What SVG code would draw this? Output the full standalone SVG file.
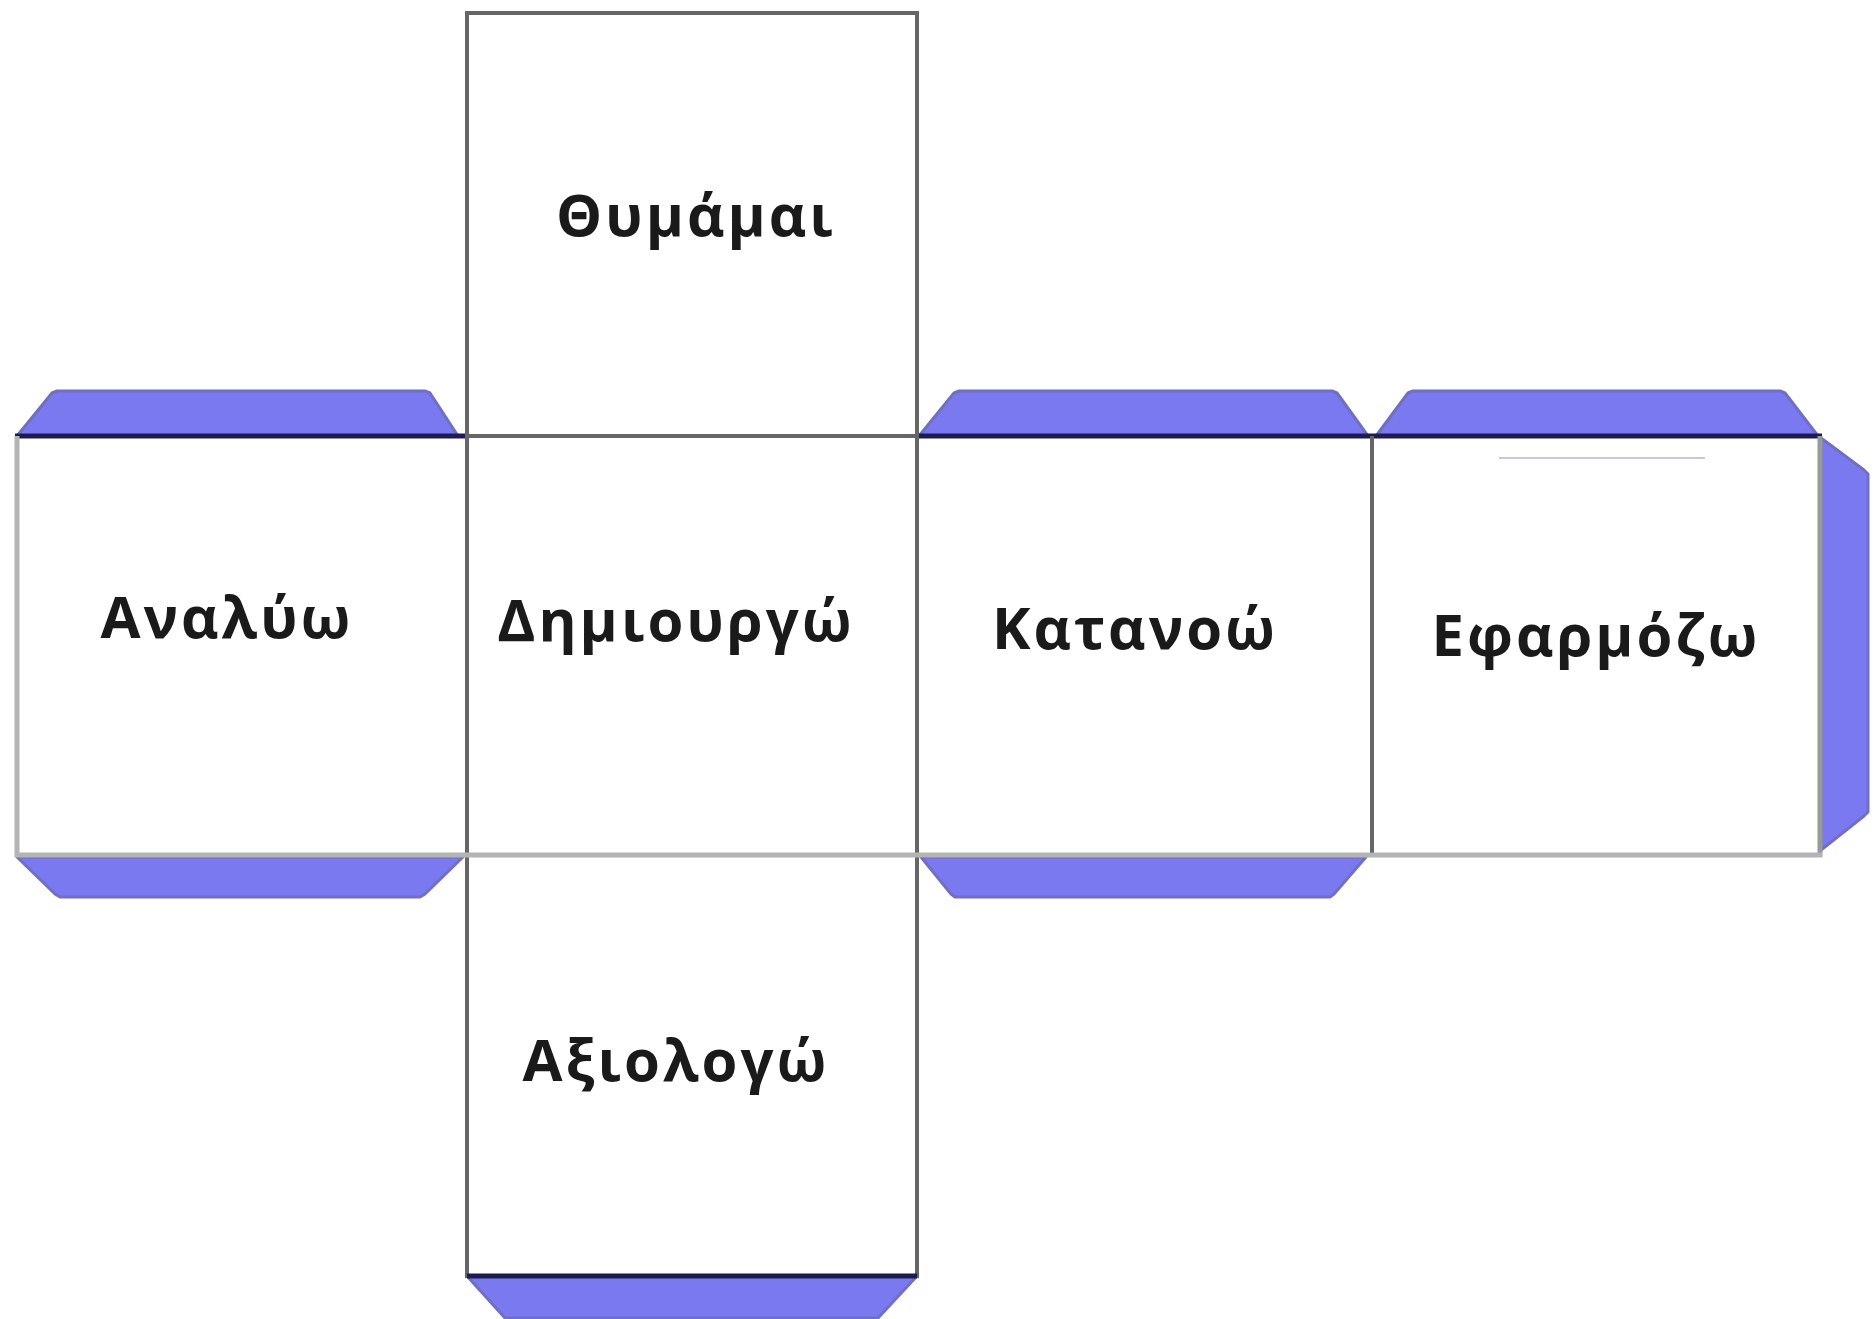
<svg xmlns="http://www.w3.org/2000/svg" width="1876" height="1319" viewBox="0 0 1876 1319">
<style>
.tab{fill:#7b79f0;stroke:#6f6fc4;stroke-width:3;stroke-linejoin:round}
.face{fill:#ffffff}
.edge{stroke:#666666;stroke-width:4;fill:none}
.light{stroke:#b4b4b4;stroke-width:5;fill:none}
.navy{stroke:#1c1c52;stroke-width:5;fill:none}
.lbl{font-family:"Open Sans","DejaVu Sans",sans-serif;font-weight:bold;font-size:58px;letter-spacing:3px;fill:#1a1a1a;text-anchor:middle}
</style>
<rect width="1876" height="1319" fill="#ffffff"/>
<g id="tabs">
<polygon class="tab" points="17,436 52,393 57,391 425,391 430,393 458,436"/>
<polygon class="tab" points="919,436 954,393 959,391 1332,391 1337,393 1368,436"/>
<polygon class="tab" points="1376,436 1408,393 1413,391 1780,391 1785,393 1818,436"/>
<polygon class="tab" points="17,857 463,857 425,894 420,897 60,897 55,894"/>
<polygon class="tab" points="921,857 1366,857 1334,894 1330,897 955,897 951,894"/>
<polygon class="tab" points="1821,438 1864,470 1868,474 1868,812 1864,816 1821,850"/>
<polygon class="tab" points="467,1276 917,1276 878,1318 505,1318"/>
</g>
<g id="node-thymamai">
<rect class="face" x="467" y="13" width="450" height="423"/>
<text class="lbl" x="696" y="236">Θυμάμαι</text>
</g>
<g id="node-analyo">
<rect class="face" x="17" y="436" width="450" height="419"/>
<text class="lbl" x="227" y="638">Αναλύω</text>
</g>
<g id="node-dimiourgo">
<rect class="face" x="467" y="436" width="450" height="419"/>
<text class="lbl" x="676" y="641">Δημιουργώ</text>
</g>
<g id="node-katanoo">
<rect class="face" x="917" y="436" width="455" height="419"/>
<text class="lbl" x="1135" y="649">Κατανοώ</text>
</g>
<g id="node-efarmozo">
<rect class="face" x="1372" y="436" width="448" height="419"/>
<text class="lbl" x="1596" y="656">Εφαρμόζω</text>
</g>
<g id="node-axiologo">
<rect class="face" x="467" y="855" width="450" height="421"/>
<text class="lbl" x="676" y="1081">Αξιολογώ</text>
</g>
<g id="connectors">
<line class="navy" x1="15" y1="436" x2="467" y2="436"/>
<line class="navy" x1="917" y1="436" x2="1822" y2="436"/>
<line class="edge" x1="467" y1="436" x2="917" y2="436"/>
<line class="edge" x1="467" y1="13" x2="917" y2="13"/>
<line class="edge" x1="467" y1="11" x2="467" y2="1278"/>
<line class="edge" x1="917" y1="11" x2="917" y2="1278"/>
<line class="edge" x1="1372" y1="436" x2="1372" y2="857"/>
<line class="light" x1="17" y1="436" x2="17" y2="857"/>
<line stroke="#999999" stroke-width="5" x1="1820" y1="436" x2="1820" y2="857"/>
<line class="light" x1="15" y1="855" x2="1822" y2="855"/>
<line class="navy" x1="467" y1="1276" x2="917" y2="1276"/>
<line stroke="#c8c8d8" stroke-width="2" x1="1499" y1="458" x2="1705" y2="458"/>
</g>
</svg>
